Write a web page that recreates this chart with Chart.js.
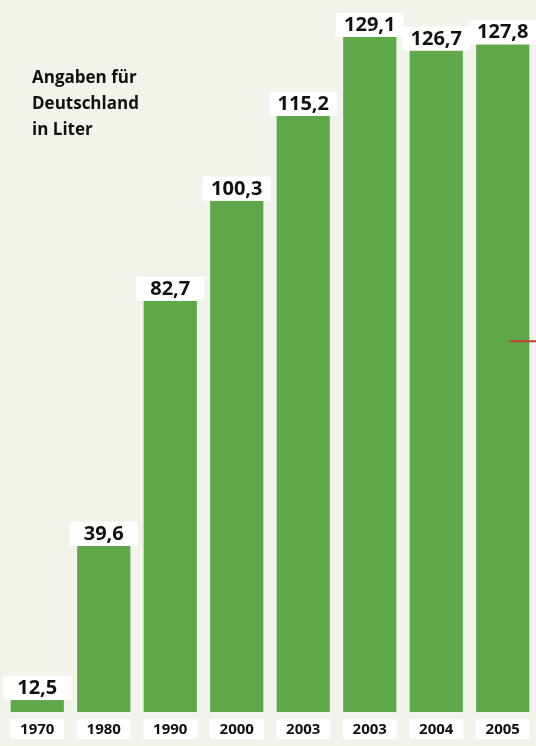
<!DOCTYPE html>
<html>
<head>
<meta charset="utf-8">
<script src="https://cdn.jsdelivr.net/npm/chart.js@4.4.1/dist/chart.umd.min.js"></script>
<style>
    html, body { margin: 0; padding: 0; background: #f2f4eb; }
    #wrap { position: relative; width: 536px; height: 746px; }
</style>
</head>
<body>
<div id="wrap"><canvas id="chart" width="536" height="746"></canvas></div>
<script>
const years = ['1970', '1980', '1990', '2000', '2003', '2003', '2004', '2005'];
const litres = [12.5, 39.6, 82.7, 100.3, 115.2, 129.1, 126.7, 127.8];
const captionLines = ['Angaben für', 'Deutschland', 'in Liter'];
const markerValue = 75.6;

const barGreen = '#5fa84a';
const valueFont = "bold 20px 'Open Sans', 'DejaVu Sans Condensed', sans-serif";
const yearFont = "bold 15px 'Open Sans', 'DejaVu Sans Condensed', sans-serif";
const captionFont = "bold 17px 'Open Sans', 'DejaVu Sans Condensed', sans-serif";

const fmt = (v) => v.toFixed(1).replace('.', ',');

const labelsPlugin = {
    id: 'labels',
    afterDatasetsDraw(chart) {
        const { ctx, scales } = chart;
        const meta = chart.getDatasetMeta(0);
        ctx.save();
        meta.data.forEach((bar, i) => {
            // value box on top of the bar
            ctx.fillStyle = '#ffffff';
            ctx.fillRect(bar.x - 34, bar.y - 24, 68, 24);
            ctx.fillStyle = '#111111';
            ctx.font = valueFont;
            ctx.textAlign = 'center';
            ctx.textBaseline = 'alphabetic';
            ctx.fillText(fmt(litres[i]), bar.x, bar.y - 6);

            // year box under the bar
            const yb = chart.chartArea.bottom + 7;
            ctx.fillStyle = '#ffffff';
            ctx.fillRect(bar.x - 27, yb, 54, 20);
            ctx.fillStyle = '#111111';
            ctx.font = yearFont;
            ctx.fillText(years[i], bar.x, yb + 14.5);
        });

        // small red marker on the right edge
        const my = scales.y.getPixelForValue(markerValue);
        ctx.strokeStyle = '#c0452f';
        ctx.lineWidth = 2;
        ctx.beginPath();
        ctx.moveTo(509, my);
        ctx.lineTo(chart.width, my);
        ctx.stroke();

        ctx.fillStyle = '#111111';
        ctx.font = captionFont;
        ctx.textAlign = 'left';
        captionLines.forEach((line, k) => {
            ctx.fillText(line, 32, 83 + k * 26);
        });
        ctx.restore();
    },
};

new Chart(document.getElementById('chart'), {
    type: 'bar',
    data: {
        labels: years.map((y, i) => y + '#' + i),
        datasets: [
            {
                data: litres,
                backgroundColor: barGreen,
                borderWidth: 0,
                categoryPercentage: 1,
                barPercentage: 0.8,
            },
        ],
    },
    options: {
        responsive: false,
        animation: false,
        layout: { padding: { left: 4, right: 0, top: 0, bottom: 34 } },
        plugins: {
            legend: { display: false },
            tooltip: { enabled: false },
        },
        scales: {
            x: { display: false },
            y: { display: false, min: 10.4, max: 135.6 },
        },
    },
    plugins: [labelsPlugin],
});
</script>
</body>
</html>
